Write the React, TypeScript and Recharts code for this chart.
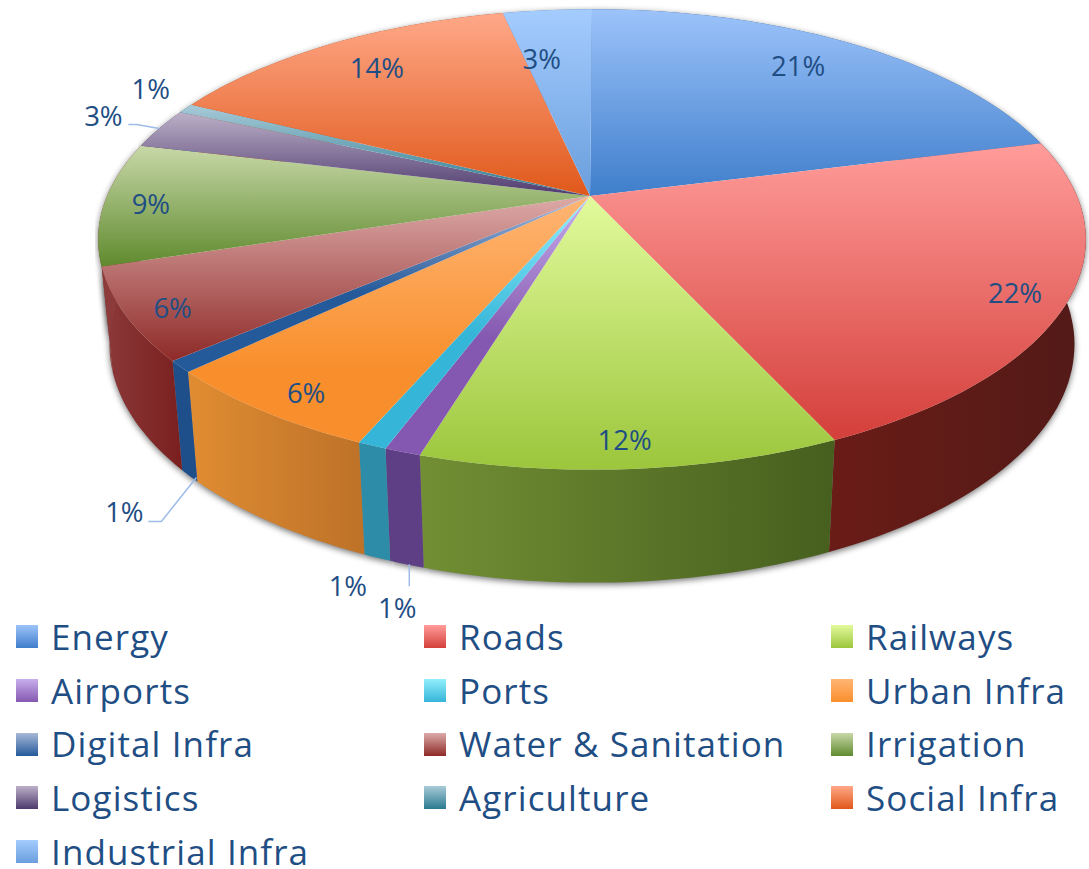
import React from "react";
import { PieChart, Pie, Legend } from "recharts";

const CATEGORIES = ["Energy","Roads","Railways","Airports","Ports","Urban Infra","Digital Infra","Water & Sanitation","Irrigation","Logistics","Agriculture","Social Infra","Industrial Infra"];
const SHARES = [21, 22.2, 11.5, 1, 0.8, 6.4, 0.8, 6.45, 8.65, 2.85, 0.7, 14.16, 3.49];

const TOP_LIGHT = ["#9cc3fa","#ff9c9a","#e2fa9c","#c9aeec","#92effd","#ffb574","#a8b8d8","#dcaaa8","#c8d8a8","#bcb0c8","#a8cad8","#ffa888","#a4ccff"];
const TOP_DARK = ["#3f7ecb","#d43f3a","#9cc63c","#8458b0","#35b5d8","#f98f2c","#245a9a","#8e2a28","#5f8a2e","#4e3a6e","#2a7a90","#e0581a","#6a9edc"];
const TOP_DARK_AT = [1, 1, 1, 0.55, 0.55, 0.7, 0.55, 1, 1, 1, 1, 1, 1];
const WALL_LEFT = ["#2f5f9f","#6a1c17","#728f34","#5e3f85","#2d8ca8","#e08c32","#1f4f8a","#8c3a3a","#8c3a3a","#44305e","#226a80","#b84a16","#5585c0"];
const WALL_RIGHT = ["#2f5f9f","#521a17","#465f1e","#5e3f85","#2d8ca8","#bd7228","#1f4f8a","#7a1f1f","#8c3a3a","#44305e","#226a80","#b84a16","#5585c0"];

// Offsets of each share label from its default spot on the slice's mid-angle.
const LABEL_NUDGE: [number, number][] = [[-6,-5],[49,15],[3,35],[-49,215],[-75,198],[-32,30],[-147,183],[-53,18],[-51,2],[-138,-26],[-111,-36],[-1,-4],[-13,16]];
const LEADERS: Record<number, [number, number][]> = {
  3: [[12,-21],[12,-43]],
  6: [[24,10],[37,10],[72,-34]],
  9: [[25,9],[33,9],[56,13]],
};

const TEXT_BLUE = "#1f4e84";
const FONT = "'Open Sans', sans-serif";
const TABLE = CATEGORIES.map((name, i) => ({ name, value: SHARES[i], idx: i, fill: TOP_DARK[i] }));

const TILT = 0.1887;
const YSCALE = 222 / 485;

function project(cx: number, cy: number, R: number, thetaDeg: number, f = 1) {
  const t = (thetaDeg * Math.PI) / 180;
  const u = f * Math.sin(t);
  const v = -f * Math.cos(t);
  const w = 1 - TILT * v;
  return { x: cx + 2 * f + (R * u) / w, y: cy + (R * YSCALE * v) / w };
}
function lower(p: { x: number; y: number }, cx: number, cy: number) {
  return { x: cx + 0.977 * (p.x - cx), y: p.y + 105 + 0.035 * (p.y - cy - 44) };
}
function rim(props: any) {
  const { cx, cy, outerRadius, startAngle, endAngle } = props;
  const a = 90 - startAngle, b = 90 - endAngle;
  const n = Math.max(4, Math.ceil(Math.abs(b - a) / 1.5));
  const pts = [];
  for (let i = 0; i <= n; i++) pts.push(project(cx, cy, outerRadius, a + ((b - a) * i) / n));
  return pts;
}
const toD = (pts: { x: number; y: number }[]) => pts.map((p, i) => `${i ? "L" : "M"}${p.x.toFixed(1)} ${p.y.toFixed(1)}`).join("");

function wallPath(props: any) {
  const pts = rim(props);
  const low = pts.map((p) => lower(p, props.cx, props.cy)).reverse();
  return toD([...pts, ...low]) + "Z";
}
const TopSlice = (props: any) => (
  <path d={toD([{ x: props.cx, y: props.cy }, ...rim(props)]) + "Z"} fill={`url(#top${props.idx})`} stroke="none" />
);
const WallSlice = (props: any) => <path d={wallPath(props)} fill={`url(#wall${props.idx})`} stroke="none" />;
const ShadowSlice = (props: any) => (
  <path d={wallPath(props)} fill="#000" fillOpacity={0.55} stroke="none" filter="url(#soft)" transform="translate(0,2)" />
);

const ShareLabel = (props: any) => {
  const { cx, cy, outerRadius, midAngle, percent, index } = props;
  const base = project(cx, cy, outerRadius, 90 - midAngle, 0.8);
  const x = base.x + LABEL_NUDGE[index][0];
  const y = base.y + LABEL_NUDGE[index][1];
  const leader = LEADERS[index];
  return (
    <g>
      {leader && (
        <path d={toD(leader.map(([dx, dy]) => ({ x: x + dx, y: y + dy })))} fill="none" stroke="#9dbce8" strokeWidth={1.5} />
      )}
      <text x={x} y={y} textAnchor="middle" dominantBaseline="central" fill={TEXT_BLUE} fontFamily={FONT} fontSize={27.5}>
        {`${Math.round(percent * 100)}%`}
      </text>
    </g>
  );
};

const LegendBlock = () => (
  <div style={{ display: "grid", gridTemplateColumns: "408px 407px 258px", gridAutoRows: "53.7px", alignItems: "center", paddingLeft: 16, fontFamily: FONT, color: TEXT_BLUE, fontSize: 35, letterSpacing: 1.1, lineHeight: "30px" }}>
    {CATEGORIES.map((name, i) => (
      <div key={name} style={{ display: "flex", alignItems: "center", whiteSpace: "nowrap", height: 30 }}>
        <span style={{ display: "inline-block", width: 22, height: 23, marginRight: 13, background: `linear-gradient(${TOP_LIGHT[i]}, ${TOP_DARK[i]})` }} />
        {name}
      </div>
    ))}
  </div>
);

export default function App() {
  return (
    <div style={{ position: "absolute", left: 0, top: 0, width: 1089, height: 869, overflow: "hidden", background: "#fff" }}>
      <PieChart width={1089} height={869} margin={{ top: 0, right: 0, bottom: 0, left: 0 }}>
        <defs>
          <filter id="soft" x="-5%" y="-5%" width="110%" height="110%">
            <feGaussianBlur stdDeviation="3" />
          </filter>
          {CATEGORIES.map((_, i) => (
            <linearGradient key={`t${i}`} id={`top${i}`} x1="0" y1="0" x2="0" y2="1">
              <stop offset="0" stopColor={TOP_LIGHT[i]} />
              <stop offset={TOP_DARK_AT[i]} stopColor={TOP_DARK[i]} />
            </linearGradient>
          ))}
          {CATEGORIES.map((_, i) => (
            <linearGradient key={`w${i}`} id={`wall${i}`} x1="0" y1="0" x2="1" y2="0">
              <stop offset="0" stopColor={WALL_LEFT[i]} />
              <stop offset="1" stopColor={WALL_RIGHT[i]} />
            </linearGradient>
          ))}
        </defs>
        <Pie data={TABLE} dataKey="value" nameKey="name" cx={590} cy={196} outerRadius={485} startAngle={90} endAngle={-270} legendType="none" isAnimationActive={false} shape={ShadowSlice} stroke="none" />
        <Pie data={TABLE} dataKey="value" nameKey="name" cx={590} cy={196} outerRadius={485} startAngle={90} endAngle={-270} legendType="none" isAnimationActive={false} shape={WallSlice} stroke="none" />
        <Pie data={TABLE} dataKey="value" nameKey="name" cx={590} cy={196} outerRadius={485} startAngle={90} endAngle={-270} isAnimationActive={false} shape={TopSlice} stroke="none" label={ShareLabel} labelLine={false} />
        <Legend content={LegendBlock} wrapperStyle={{ position: "absolute", left: 0, top: 610, width: 1089 }} />
      </PieChart>
    </div>
  );
}
